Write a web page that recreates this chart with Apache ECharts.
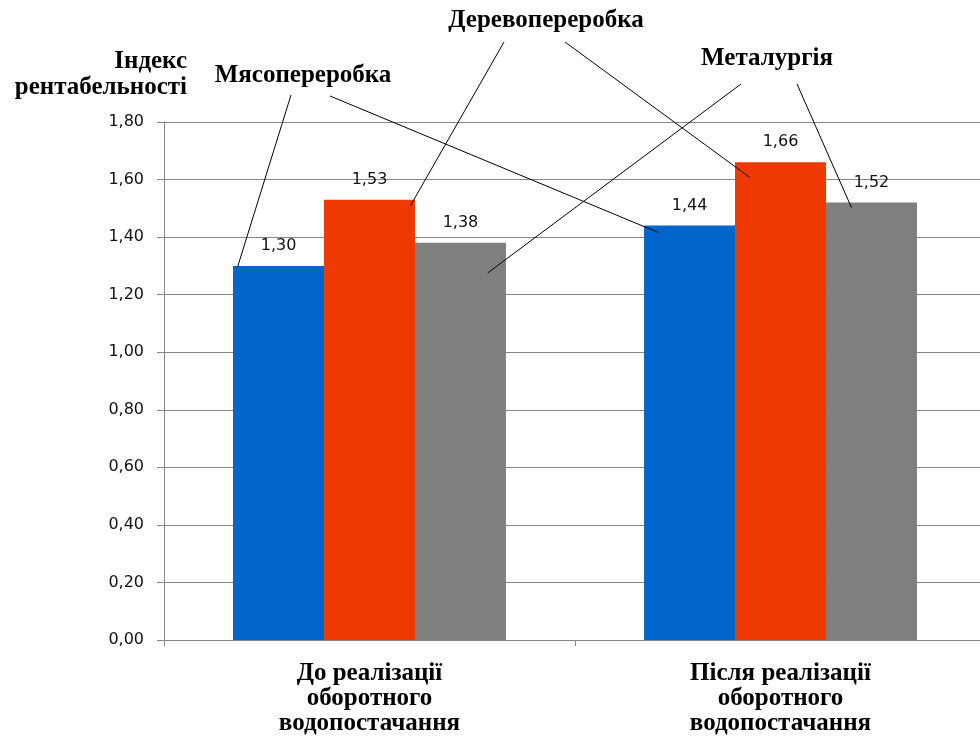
<!DOCTYPE html>
<html><head><meta charset="utf-8">
<script src="https://cdn.jsdelivr.net/npm/echarts@6/dist/echarts.min.js"></script>
<style>html,body{margin:0;padding:0;background:#fff;overflow:hidden;width:980px;height:736px}#c{width:986px;height:736px}</style>
</head><body><div id="c"></div>
<script>
const categories = ['До реалізації\nоборотного\nводопостачання', 'Після реалізації\nоборотного\nводопостачання'];
const seriesNames = ['Мясопереробка', 'Деревопереробка', 'Металургія'];
const meatValues = [1.30, 1.44];
const woodValues = [1.53, 1.66];
const metalValues = [1.38, 1.52];
const colors = ['#0066CC', '#EE3A00', '#7F7F7F'];
const yTitle = ['Індекс', 'рентабельності'];

const serif = '"Liberation Serif", "Times New Roman", serif';
const sans = '"DejaVu Sans", Verdana, sans-serif';
const gapPct = 33.6;
const big = 25;

const chart = echarts.init(document.getElementById('c'));
const values = [meatValues, woodValues, metalValues];
const option = {
  animation: false,
  backgroundColor: '#fff',
  grid: { left: 164, right: 0, top: 122, bottom: 95, containLabel: false },
  xAxis: {
    type: 'category', data: categories,
    axisLine: { lineStyle: { color: '#868686', width: 1 } },
    axisTick: { show: true, length: 6, lineStyle: { color: '#868686' } },
    axisLabel: { margin: 21, color: '#000', fontFamily: serif, fontWeight: 'bold', fontSize: big, lineHeight: 25 }
  },
  yAxis: {
    type: 'value', min: 0, max: 1.8, interval: 0.2,
    axisLine: { show: true, lineStyle: { color: '#868686', width: 1 } },
    axisTick: { show: true, length: 7, lineStyle: { color: '#868686' } },
    splitLine: { lineStyle: { color: '#868686', width: 1 } },
    axisLabel: { margin: 20, color: '#111', fontFamily: sans, fontSize: 16, formatter: v => v.toFixed(2).replace('.', ',') }
  },
  series: seriesNames.map((n, i) => ({
    type: 'bar', name: n, data: values[i],
    barGap: '0%', barCategoryGap: gapPct + '%',
    itemStyle: { color: colors[i] },
    label: { show: true, position: 'top', distance: 12, color: '#111', fontFamily: sans, fontSize: 16,
      formatter: p => p.value.toFixed(2).replace('.', ',') }
  }))
};
chart.setOption(option);

// leader lines from series names to bars
const p0 = chart.convertToPixel({ xAxisIndex: 0, yAxisIndex: 0 }, [0, 0]);
const p1 = chart.convertToPixel({ xAxisIndex: 0, yAxisIndex: 0 }, [1, 0]);
const band = p1[0] - p0[0];
const bw = band * (1 - gapPct / 100) / 3;
function anchor(s, c, fx, dy) {
  const p = chart.convertToPixel({ xAxisIndex: 0, yAxisIndex: 0 }, [c, values[s][c]]);
  const left = p[0] + (s - 1.5) * bw;
  return [left + fx * bw, p[1] + dy];
}
const labels = [
  { s: 0, text: seriesNames[0], tx: 303, ty: 76, lines: [[291, 95, 0, 0.05, 1], [330, 96, 1, 0.16, 7]] },
  { s: 1, text: seriesNames[1], tx: 546, ty: 21, lines: [[504, 42, 0, 0.95, 6], [565, 42, 1, 0.16, 15]] },
  { s: 2, text: seriesNames[2], tx: 767, ty: 59, lines: [[741, 84, 0, 0.8, 30], [797, 84, 1, 0.28, 5]] }
];
const g = [];
g.push({ type: 'text', x: 187, y: 62, style: { text: yTitle[0], textAlign: 'right', textVerticalAlign: 'middle', font: 'bold ' + big + 'px ' + serif, fill: '#000' } });
g.push({ type: 'text', x: 187, y: 88, style: { text: yTitle[1], textAlign: 'right', textVerticalAlign: 'middle', font: 'bold ' + big + 'px ' + serif, fill: '#000' } });
labels.forEach(l => {
  g.push({ type: 'text', x: l.tx, y: l.ty, style: { text: l.text, textAlign: 'center', textVerticalAlign: 'middle', font: 'bold ' + big + 'px ' + serif, fill: '#000' } });
  l.lines.forEach(ln => {
    const e = anchor(l.s, ln[2], ln[3], ln[4]);
    g.push({ type: 'line', z: 100, shape: { x1: ln[0], y1: ln[1], x2: e[0], y2: e[1] }, style: { stroke: '#000', lineWidth: 1 } });
  });
});
chart.setOption({ graphic: g });
</script></body></html>
